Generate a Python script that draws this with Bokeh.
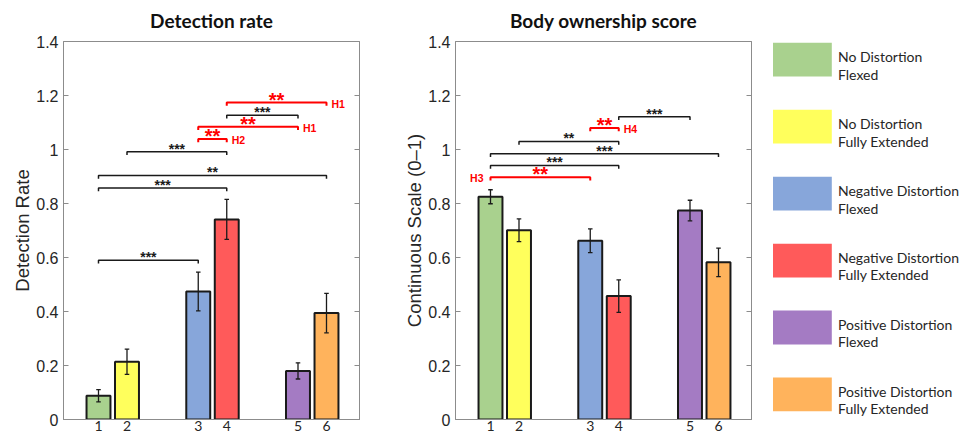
from bokeh.plotting import figure
from bokeh.layouts import row
from bokeh.models import (Range1d, FixedTicker, LinearAxis, CustomJSTickFormatter,
                          ColumnDataSource, Title)
from bokeh.core.properties import value
from bokeh.embed import file_html
from bokeh.resources import INLINE

# ---------------- data ----------------
condition_ids = ["1", "2", "3", "4", "5", "6"]
legend_line1 = ["No Distortion", "No Distortion", "Negative Distortion",
                "Negative Distortion", "Positive Distortion", "Positive Distortion"]
legend_line2 = ["Flexed", "Fully Extended", "Flexed", "Fully Extended", "Flexed", "Fully Extended"]
bar_colors = ["#A9D18E", "#FFFF5C", "#87A6DA", "#FF5A5A", "#A47BC3", "#FFB35C"]

detection_mean = [0.088, 0.214, 0.474, 0.741, 0.180, 0.394]
detection_sem = [0.023, 0.047, 0.072, 0.074, 0.030, 0.073]
ownership_mean = [0.825, 0.701, 0.662, 0.457, 0.774, 0.582]
ownership_sem = [0.026, 0.042, 0.044, 0.060, 0.038, 0.053]

# significance brackets (bar numbers 1..6)
det_br_from = [4, 4, 3, 3, 2, 1, 1, 1]
det_br_to = [6, 5, 5, 4, 4, 6, 4, 3]
det_br_level = [1.174, 1.127, 1.084, 1.039, 0.992, 0.904, 0.857, 0.590]
det_br_stars = ["**", "***", "**", "**", "***", "**", "***", "***"]
det_br_hyp = ["H1", "", "H1", "H2", "", "", "", ""]
det_br_hyp_side = ["right", "", "right", "right", "", "", "", ""]

own_br_from = [4, 3, 2, 1, 1, 1]
own_br_to = [5, 4, 4, 6, 4, 3]
own_br_level = [1.121, 1.080, 1.030, 0.984, 0.941, 0.897]
own_br_stars = ["***", "**", "**", "***", "***", "**"]
own_br_hyp = ["", "H4", "", "", "", "H3"]
own_br_hyp_side = ["", "right", "", "", "", "left"]

y_ticks = [0, 0.2, 0.4, 0.6, 0.8, 1, 1.2, 1.4]

# ---------------- helpers ----------------
GRAY = "#8c8c8c"
DARK = "#262626"
RED = "#ff0000"
BLACK = "#1a1a1a"
H = 433
TOP = 41
BOTTOM = 12

bar_x = [1 + 3.5 * (i // 2) + (i % 2) for i in range(6)]


def make_chart(title, ylabel, means, sems, br_from, br_to, br_level, br_stars,
               br_hyp, br_hyp_side, width, border_left, border_right, title_offset):
    p = figure(width=width, height=H, x_range=Range1d(-0.228, 10.158),
               y_range=Range1d(0, 1.4), output_backend="svg", toolbar_location=None,
               min_border_left=border_left, min_border_right=border_right,
               min_border_top=TOP, min_border_bottom=BOTTOM)
    p.title.text = title
    p.title.align = "center"
    p.title.offset = title_offset
    p.title.text_font = "Lato"
    p.title.text_font_size = "19px"
    p.title.text_font_style = "bold"
    p.title.text_color = "#111111"
    # small blank spacer between the frame and the title
    p.add_layout(Title(text=" ", text_font_size="3px", standoff=0), "above")
    p.xgrid.visible = False
    p.ygrid.visible = False
    p.outline_line_color = GRAY
    p.outline_line_width = 1

    # y axis
    yax = p.yaxis[0]
    yax.ticker = FixedTicker(ticks=y_ticks)
    yax.major_label_overrides = {0: "0", 1: "1"}
    yax.major_tick_in = 5
    yax.major_tick_out = 0
    yax.minor_tick_line_color = None
    yax.major_tick_line_color = GRAY
    yax.axis_line_color = GRAY
    yax.major_label_text_font = "Liberation Sans"
    yax.major_label_text_font_size = "16px"
    yax.major_label_text_color = DARK
    yax.major_label_standoff = 5
    yax.axis_label = ylabel
    yax.axis_label_text_font = "Liberation Sans"
    yax.axis_label_text_font_size = "18.5px"
    yax.axis_label_text_font_style = "normal"
    yax.axis_label_text_color = DARK
    yax.axis_label_standoff = 0

    rax = LinearAxis(ticker=FixedTicker(ticks=y_ticks),
                     formatter=CustomJSTickFormatter(code="return ''"),
                     major_tick_in=5, major_tick_out=0, minor_tick_line_color=None,
                     major_tick_line_color=GRAY, axis_line_color=GRAY,
                     major_label_standoff=0)
    p.add_layout(rax, "right")

    # x axis
    xax = p.xaxis[0]
    xax.ticker = FixedTicker(ticks=bar_x)
    xax.major_label_overrides = {x: lab for x, lab in zip(bar_x, condition_ids)}
    xax.major_tick_line_color = None
    xax.minor_tick_line_color = None
    xax.axis_line_color = GRAY
    xax.major_label_text_font = "Lato"
    xax.major_label_text_font_size = "14px"
    xax.major_label_text_color = DARK
    xax.major_label_standoff = -5

    src = ColumnDataSource(dict(
        x=bar_x, mean=means, color=bar_colors,
        lo=[m - s for m, s in zip(means, sems)],
        hi=[m + s for m, s in zip(means, sems)],
        xl=[x - 0.08 for x in bar_x], xr=[x + 0.08 for x in bar_x]))
    p.vbar(x="x", top="mean", width=0.84, fill_color="color", line_color=BLACK,
           line_width=2, source=src)
    p.segment(x0="x", y0="lo", x1="x", y1="hi", line_color=BLACK, line_width=1.3, source=src)
    p.segment(x0="xl", y0="lo", x1="xr", y1="lo", line_color=BLACK, line_width=1.3, source=src)
    p.segment(x0="xl", y0="hi", x1="xr", y1="hi", line_color=BLACK, line_width=1.3, source=src)

    drop = 0.012
    xs, ys, cols, lws = [], [], [], []
    red_st = dict(x=[], y=[], t=[])
    blk_st = dict(x=[], y=[], t=[])
    hyp_r = dict(x=[], y=[], t=[])
    hyp_l = dict(x=[], y=[], t=[])
    for a, b, lv, st, h, side in zip(br_from, br_to, br_level, br_stars, br_hyp, br_hyp_side):
        x1, x2 = bar_x[a - 1], bar_x[b - 1]
        xs.append([x1, x1, x2, x2])
        ys.append([lv - drop, lv, lv, lv - drop])
        is_red = h != ""
        cols.append(RED if is_red else BLACK)
        lws.append(2 if is_red else 1.5)
        target = red_st if is_red else blk_st
        target["x"].append((x1 + x2) / 2)
        target["y"].append(lv)
        target["t"].append(st)
        if is_red:
            if side == "left":
                hyp_l["x"].append(x1); hyp_l["y"].append(lv); hyp_l["t"].append(h)
            else:
                hyp_r["x"].append(x2); hyp_r["y"].append(lv); hyp_r["t"].append(h)
    p.multi_line(xs=xs, ys=ys, line_color=cols, line_width=lws)
    p.text(x=blk_st["x"], y=blk_st["y"], text=blk_st["t"], text_align="center",
           text_baseline="middle", y_offset=-3, text_color=BLACK,
           text_font=value("Liberation Sans"), text_font_size="14px",
           text_font_style="bold")
    p.text(x=red_st["x"], y=red_st["y"], text=red_st["t"], text_align="center",
           text_baseline="middle", y_offset=-3, text_color=RED,
           text_font=value("Liberation Sans"), text_font_size="20px",
           text_font_style="bold")
    if hyp_r["x"]:
        p.text(x=hyp_r["x"], y=hyp_r["y"], text=hyp_r["t"], text_align="left",
               text_baseline="middle", x_offset=5, y_offset=1, text_color=RED,
               text_font=value("Liberation Sans"), text_font_size="10.5px",
               text_font_style="bold")
    if hyp_l["x"]:
        p.text(x=hyp_l["x"], y=hyp_l["y"], text=hyp_l["t"], text_align="right",
               text_baseline="middle", x_offset=-7, y_offset=1, text_color=RED,
               text_font=value("Liberation Sans"), text_font_size="10.5px",
               text_font_style="bold")
    return p


p1 = make_chart("Detection rate", "Detection Rate", detection_mean, detection_sem,
                det_br_from, det_br_to, det_br_level, det_br_stars, det_br_hyp,
                det_br_hyp_side, 400, 63, 41, -7)
p2 = make_chart("Body ownership score", "Continuous Scale (0–1)", ownership_mean, ownership_sem,
                own_br_from, own_br_to, own_br_level, own_br_stars, own_br_hyp,
                own_br_hyp_side, 360, 55, 9, 5)

# ---------------- legend panel (frame aligned with charts: page y == data y) ----------------
LW = 208
leg = figure(width=LW, height=H, x_range=Range1d(0, LW), y_range=Range1d(H - BOTTOM, TOP),
             output_backend="svg", toolbar_location=None, min_border_left=0,
             min_border_right=0, min_border_top=TOP, min_border_bottom=BOTTOM)
leg.axis.visible = False
leg.xgrid.visible = False
leg.ygrid.visible = False
leg.outline_line_color = None
tops = [42.3 + 67.3 * i for i in range(6)]
leg.quad(left=12.5, right=71.3, top=tops, bottom=[t + 34 for t in tops],
         fill_color=bar_colors, line_color=None)
leg.text(x=77.5, y=[t + 14 for t in tops], text=legend_line1, text_baseline="alphabetic",
         text_font=value("Lato"), text_font_size="14px", text_color=DARK)
leg.text(x=77.5, y=[t + 31.5 for t in tops], text=legend_line2, text_baseline="alphabetic",
         text_font=value("Lato"), text_font_size="14px", text_color=DARK)

layout = row(p1, p2, leg)
open("out.html", "w").write(file_html(layout, INLINE))
